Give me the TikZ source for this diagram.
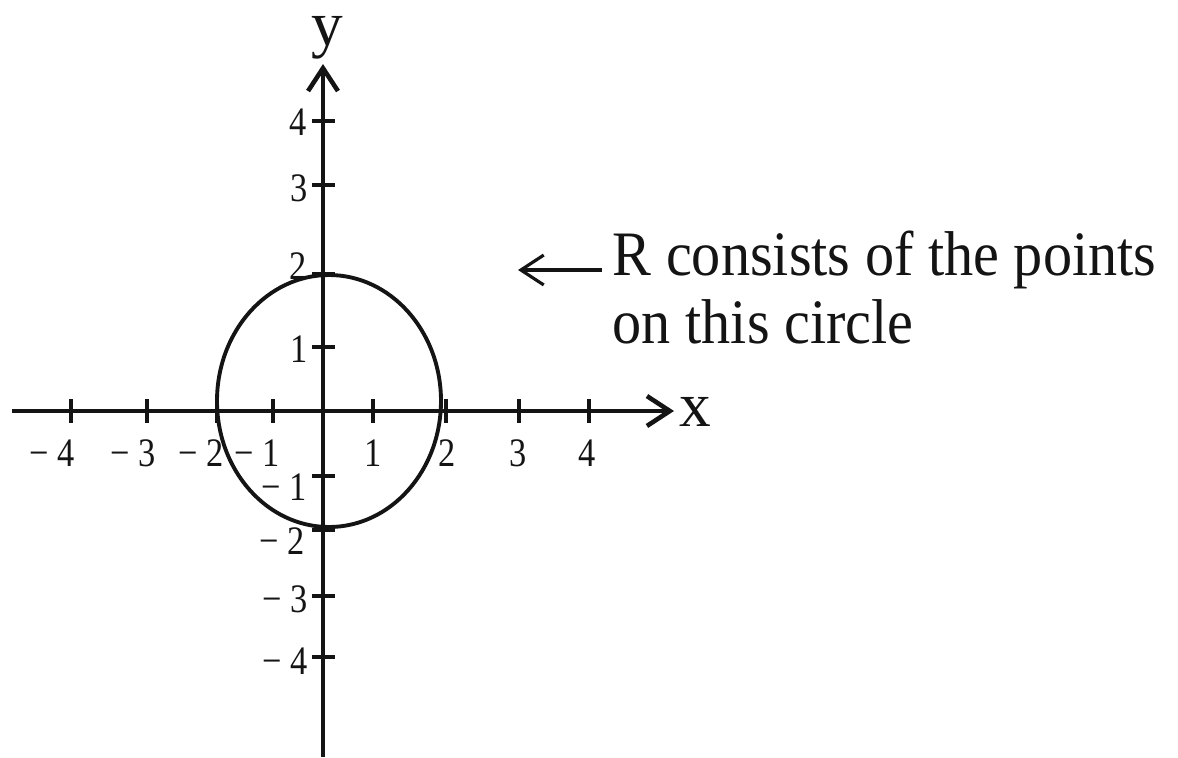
\documentclass[tikz,border=0pt]{standalone}
\usepackage{fontspec}
\setmainfont{Liberation Serif}
\newfontfamily\ticksfont[FakeStretch=0.85]{Liberation Serif}
\newfontfamily\notefont[FakeStretch=0.92]{Liberation Serif}
\usepackage{xcolor}
\usetikzlibrary{arrows.meta, positioning}
\definecolor{inkblack}{RGB}{20, 20, 20}

\begin{document}
\begin{tikzpicture}[
  x=0.01cm, y=-0.01cm,
  axis/.style={line width=1.3pt, draw=inkblack, -{Straight Barb[length=6.5pt, width=8.5pt, line width=1.3pt]}},
  tickline/.style={line width=1pt, draw=inkblack},
  curve/.style={line width=1.1pt, draw=inkblack},
  pointer/.style={line width=0.9pt, draw=inkblack, -{Straight Barb[length=6.5pt, width=8.5pt, line width=0.9pt]}},
  ticklabel/.style={inner sep=0pt, text=inkblack, font=\ticksfont\fontsize{11.5}{13}\selectfont},
  axislabel/.style={inner sep=0pt, text=inkblack, font=\fontsize{18}{20}\selectfont},
  note/.style={inner xsep=2.85pt, inner ysep=0pt, text=inkblack, align=left, font=\notefont\fontsize{18}{19.3}\selectfont}
]
\useasboundingbox (0,0) rectangle (1178,757);

% Axes
\coordinate (xstart) at (12, 411);
\coordinate (xend) at (674, 411);
\coordinate (ystart) at (323, 757);
\coordinate (yend) at (323, 64);
\draw[axis] (xstart) -- (xend);
\draw[axis] (ystart) -- (yend);
\node[axislabel, anchor=west] (xlab) at (679, 412) {x};
\node[axislabel] (ylab) at (327, 38) {y};

% Ticks on x
\draw[tickline] (71,399) -- (71,423);
\draw[tickline] (147,399) -- (147,423);
\draw[tickline] (217,399) -- (217,423);
\draw[tickline] (273,399) -- (273,423);
\draw[tickline] (373,399) -- (373,423);
\draw[tickline] (446,399) -- (446,423);
\draw[tickline] (519,399) -- (519,423);
\draw[tickline] (589,399) -- (589,423);
\node[ticklabel] (xm4) at (52,453) {− 4};
\node[ticklabel] (xm3) at (133,453) {− 3};
\node[ticklabel] (xm2) at (201,453) {− 2};
\node[ticklabel] (xm1) at (257,453) {− 1};
\node[ticklabel] (xp1) at (373,453) {1};
\node[ticklabel] (xp2) at (447,453) {2};
\node[ticklabel] (xp3) at (518,453) {3};
\node[ticklabel] (xp4) at (587,453) {4};

% Ticks on y
\draw[tickline] (312,121) -- (335,121);
\draw[tickline] (312,185) -- (335,185);
\draw[tickline] (312,274) -- (335,274);
\draw[tickline] (312,347) -- (335,347);
\draw[tickline] (312,476) -- (335,476);
\draw[tickline] (312,530) -- (335,530);
\draw[tickline] (312,596) -- (335,596);
\draw[tickline] (312,657) -- (335,657);
\node[ticklabel, anchor=east] (yp4) at (307,122) {4};
\node[ticklabel, anchor=east] (yp3) at (308,188) {3};
\node[ticklabel, anchor=east] (yp2) at (307,266) {2};
\node[ticklabel, anchor=east] (yp1) at (308,349) {1};
\node[ticklabel, anchor=east] (ym1) at (307,487) {− 1};
\node[ticklabel, anchor=east] (ym2) at (305,541) {− 2};
\node[ticklabel, anchor=east] (ym3) at (308,599) {− 3};
\node[ticklabel, anchor=east] (ym4) at (308,661) {− 4};

% The circle R
\draw[curve] (329,401) ellipse [x radius=112, y radius=126];

% Note
\node[note, anchor=north west] (note) at (602, 230) {R consists of the points\\on this circle};
\coordinate (notetip) at (518, 270);
\draw[pointer] (note.west |- notetip) -- (notetip);
\end{tikzpicture}
\end{document}
